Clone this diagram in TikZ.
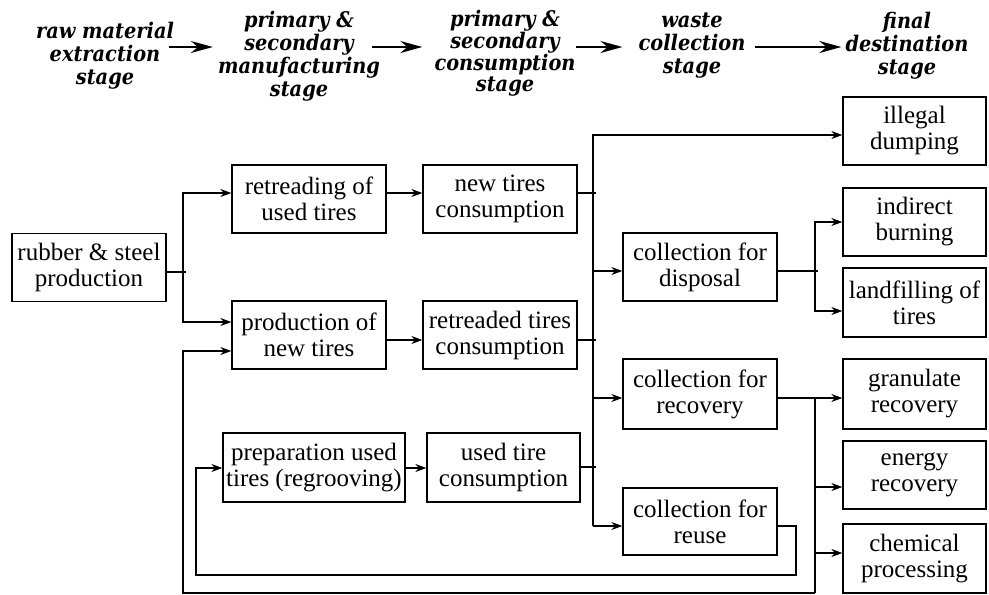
\documentclass[tikz,border=0pt]{standalone}
\usepackage{fontspec}
\setmainfont{Liberation Serif}
\newfontfamily\hfont[FakeStretch=0.9]{DejaVu Serif}
\usetikzlibrary{arrows.meta}
\tikzset{
  box/.style={draw, line width=1.3pt, minimum width=154pt, minimum height=68pt,
    align=center, inner sep=0pt, font=\fontsize{25}{26}\selectfont},
  conn/.style={line width=1.3pt},
  arr/.style={conn, -{Stealth[length=11pt,width=8pt]}},
  hdr/.style={align=center, inner sep=0pt,
    font=\hfont\bfseries\itshape\fontsize{21.5}{23}\selectfont},
  harrow/.style={line width=1.8pt, -{Stealth[length=22pt,width=12pt]}}
}
\begin{document}
\begin{tikzpicture}[x=1pt,y=-1pt]
\useasboundingbox (0,0) rectangle (989,595);
% headers
\node[hdr] (h1) at (105,56) {raw material\\extraction\\stage};
\node[hdr] (h2) at (299,56) {primary \&\\secondary\\manufacturing\\stage};
\node[hdr, font=\hfont\bfseries\itshape\fontsize{21.5}{20.5}\selectfont] (h3) at (505,53) {primary \&\\secondary\\consumption\\stage};
\node[hdr] (h4) at (692,46) {waste\\collection\\stage};
\node[hdr] (h5) at (907,46) {final\\destination\\stage};
% rows and rails
\coordinate (r47) at (0,47);
\foreach \y in {135,193,222,271,272,311,322,340,351,398,467,468,487,526,553,575,593}
  {\coordinate (r\y) at (0,\y);}
\coordinate (railA) at (183,0);
\coordinate (railB) at (196,0);
\coordinate (railT) at (593,0);
\coordinate (railU) at (796,0);
\coordinate (railR) at (815,0);
% header arrows
\draw[harrow] ([xshift=-5pt]h1.east |- r47) -- ([xshift=-5pt]h2.west |- r47);
\draw[harrow] ([xshift=-8pt]h2.east |- r47) -- ([xshift=-12pt]h3.west |- r47);
\draw[harrow] (h3.east |- r47) -- ([xshift=-16pt]h4.west |- r47);
\draw[harrow] ([xshift=9pt]h4.east |- r47) -- ([xshift=-4pt]h5.west |- r47);
% boxes
\node[box] (rub) at (89,267.5) {rubber \& steel\\production};
\node[box] (ret) at (309,199) {retreading of\\used tires};
\node[box] (prod) at (309,335) {production of\\new tires};
\node[box] (ntc) at (500,199) {new tires\\consumption};
\node[box] (rtc) at (500,335) {retreaded tires\\consumption};
\node[box, minimum width=182pt, minimum height=69pt] (prep) at (314,467.5) {preparation used\\tires (regrooving)};
\node[box, minimum width=153pt, minimum height=69pt] (utc) at (503.5,467.5) {used tire\\consumption};
\node[box] (cdis) at (700,267) {collection for\\disposal};
\node[box, minimum height=70pt] (crec) at (700,394) {collection for\\recovery};
\node[box, minimum height=67pt] (creu) at (700,521.5) {collection for\\reuse};
\node[box, minimum width=143pt] (ill) at (914.5,131) {illegal\\dumping};
\node[box, minimum width=143pt] (ind) at (914.5,222) {indirect\\burning};
\node[box, minimum width=143pt, minimum height=69pt] (land) at (914.5,302.5) {landfilling of\\tires};
\node[box, minimum width=143pt, minimum height=70pt] (gran) at (914.5,394) {granulate\\recovery};
\node[box, minimum width=143pt] (ener) at (914.5,475) {energy\\recovery};
\node[box, minimum width=143pt, minimum height=69pt] (chem) at (914.5,558.5) {chemical\\processing};
% connectors
\draw[conn] (rub.east |- r272) -- ([xshift=3pt]railA |- r272);
\draw[arr] (railA |- r272) |- (ret.west |- r193);
\draw[arr] (railA |- r272) |- (prod.west |- r322);
\draw[arr] (railR |- r593) -| (railA |- r351) -- (prod.west |- r351);
\draw[arr] (ret.east |- r193) -- (ntc.west |- r193);
\draw[arr] (prod.east |- r340) -- (rtc.west |- r340);
\draw[arr] (prep.east |- r468) -- (utc.west |- r468);
\draw[conn] (ntc.east |- r193) -- ([xshift=3pt]railT |- r193);
\draw[conn] (rtc.east |- r340) -- ([xshift=3pt]railT |- r340);
\draw[conn] (utc.east |- r467) -- ([xshift=3pt]railT |- r467);
\draw[arr] (railT |- r526) |- (ill.west |- r135);
\draw[arr] (railT |- r271) -- (cdis.west |- r271);
\draw[arr] (railT |- r398) -- (crec.west |- r398);
\draw[arr] (railT |- r526) -- (creu.west |- r526);
\draw[conn] (cdis.east |- r271) -- ([xshift=3pt]railR |- r271);
\draw[arr] (railR |- r271) |- (ind.west |- r222);
\draw[arr] (railR |- r271) |- (land.west |- r311);
\draw[arr] (crec.east |- r398) -- (gran.west |- r398);
\draw[conn] (railR |- r398) -- (railR |- r593);
\draw[arr] (railR |- r487) -- (ener.west |- r487);
\draw[arr] (railR |- r553) -- (chem.west |- r553);
\draw[arr] (creu.east |- r526) -| (railU |- r575) -| (railB |- r468) -- (prep.west |- r468);
\end{tikzpicture}
\end{document}
